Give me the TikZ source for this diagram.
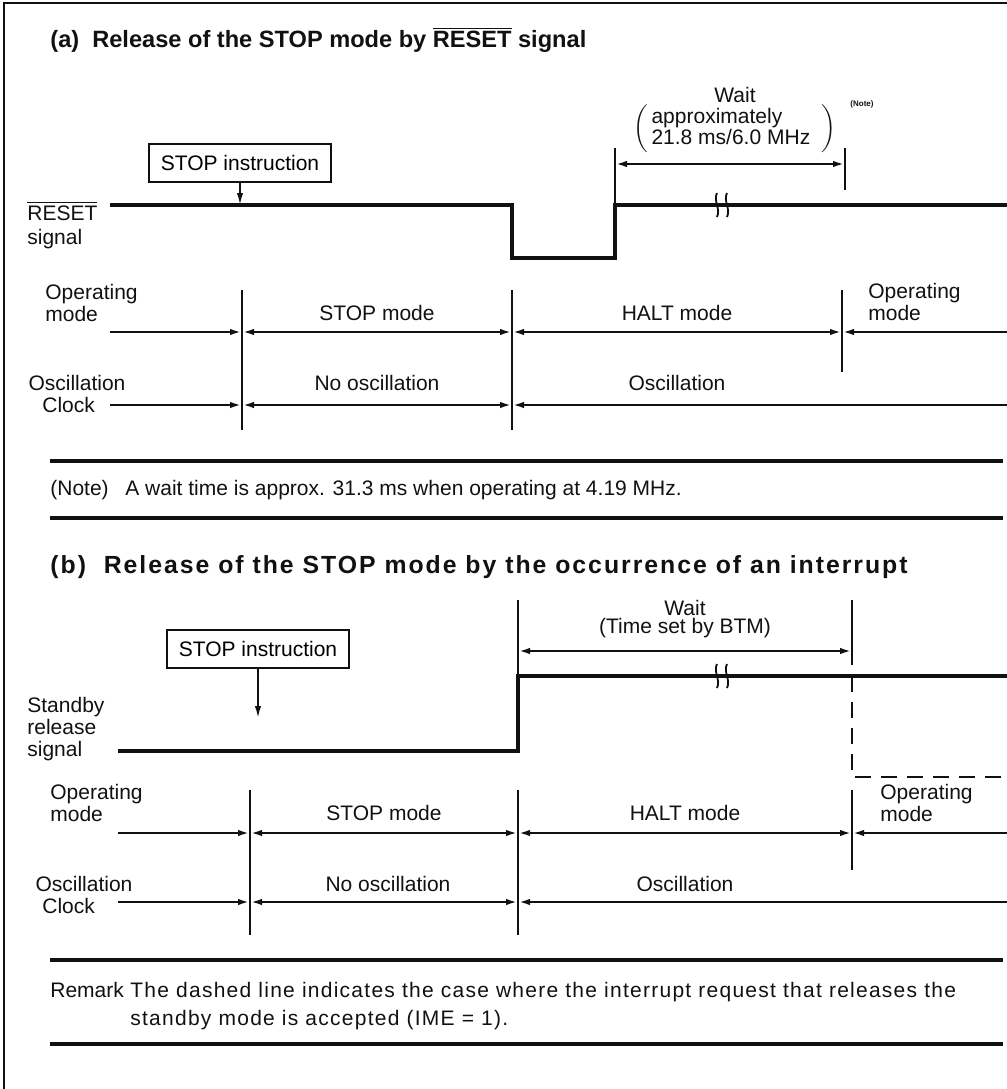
\documentclass[tikz,border=0pt]{standalone}
\usepackage{fontspec}
\setmainfont{Liberation Sans}
\usetikzlibrary{arrows.meta}
\definecolor{ink}{HTML}{111111}
\newcommand{\lbl}{\fontsize{10.5}{10}\selectfont}
\newcommand{\ttl}{\fontsize{11.8}{14}\selectfont\bfseries}
\newcommand{\rst}{$\overline{\mbox{RESET}}$}
\tikzset{
  sig/.style={draw=ink, line width=2pt},
  vline/.style={draw=ink, line width=0.9pt},
  rule/.style={draw=ink, line width=1.8pt},
  mline/.style={draw=ink, line width=1.2pt},
  tipr/.style={mline, -{Latex[length=6pt,width=3.2pt]}},
  tipb/.style={mline, {Latex[length=6pt,width=3.2pt]}-{Latex[length=6pt,width=3.2pt]}},
  txt/.style={text=ink, font=\lbl, inner sep=0pt},
  stopbox/.style={draw=ink, line width=0.9pt, font=\lbl, minimum width=91pt,
    minimum height=19pt, inner sep=2pt},
  brk/.pic={\draw[ink, line width=0.9pt] (-5,-12) .. controls (-9,-4) and (-1,4) .. (-5,12)
             (5,-12) .. controls (1,-4) and (9,4) .. (5,12);}
}
\begin{document}
\begin{tikzpicture}[x=0.5pt, y=-0.5pt]
  \useasboundingbox (0,0) rectangle (1007,1089);
  \draw[ink, line width=1.4pt] (4,1089) |- (1007,3);

  % (a) release by RESET
  \node[txt, font=\ttl, anchor=west] (ta) at (50,40)
    {(a)\ \ Release of the STOP mode by \rst\ signal};
  \node[stopbox] (sa) at (240,163) {STOP instruction};
  \coordinate (ra) at (240,205);
  \draw[tipr, line width=0.9pt] (sa.south) -- (ra);
  \node[txt, anchor=north west, align=left] (la) at (27,201) {\rst\\[2pt]signal};
  \draw[sig] (110,205) -- (512,205) -- (512,258) -- (615,258) -- (615,205) -- (1007,205);
  \pic at (722,205) {brk};

  \node[txt] (wa) at (735,95) {Wait};
  \node[txt] (pa) at (735,129) {$\left(\mbox{\begin{tabular}{@{\,}l@{\ \ }}approximately\\21.8 ms/6.0 MHz\end{tabular}}\right)$};
  \node[txt, font=\fontsize{4}{4}\selectfont\bfseries] (na) at (862,104) {(Note)};
  \draw[vline] (615,148) -- (615,205) (845,148) -- (845,190);
  \draw[tipb] (615,164) -- (845,164);

  \node[txt, anchor=west, align=left] (oa) at (45,303) {Operating\\[1pt]mode};
  \node[txt] (sma) at (377,313) {STOP mode};
  \node[txt] (hma) at (677,313) {HALT mode};
  \node[txt, anchor=west, align=left] (ob) at (868,302) {Operating\\[1pt]mode};
  \draw[vline] (242,290) -- (242,430) (512,290) -- (512,430) (842,290) -- (842,372);
  \draw[tipr] (110,332) -- (242,332);
  \draw[tipb] (242,332) -- (512,332);
  \draw[tipb] (512,332) -- (842,332);
  \draw[tipr] (1007,332) -- (842,332);

  \node[txt] (xa) at (77,383) {Oscillation};
  \node[txt] (nxa) at (377,383) {No oscillation};
  \node[txt] (xb) at (677,383) {Oscillation};
  \node[txt, anchor=west] (ca) at (42,405) {Clock};
  \draw[tipr] (110,405) -- (242,405);
  \draw[tipb] (242,405) -- (512,405);
  \draw[tipr] (1007,405) -- (512,405);

  \draw[rule] (50,461) -- (1003,461) (50,518) -- (1003,518);
  \node[txt, anchor=west] (nt) at (50,490) {(Note)};
  \node[txt, anchor=west] (ntx) at (125,490) {A wait time is approx. 31.3 ms when operating at 4.19 MHz.};

  % (b) release by interrupt
  \node[txt, font=\fontsize{12.4}{14}\selectfont\bfseries\addfontfeature{LetterSpace=8}, anchor=west] (tb) at (50,567)
    {(b)\ \ Release of the STOP mode by the occurrence of an interrupt};
  \node[stopbox] (sb) at (258,649) {STOP instruction};
  \coordinate (rb) at (258,718);
  \draw[tipr, line width=0.9pt] (sb.south) -- (rb);
  \node[txt, anchor=north west, align=left] (lb) at (27,697) {Standby\\[1pt]release\\[1pt]signal};
  \draw[sig] (118,751) -- (518,751) -- (518,676) -- (1007,676);
  \pic at (722,676) {brk};
  \draw[ink, line width=1.2pt, dashed, dash pattern=on 8pt off 5pt] (852,676) -- (852,777) -- (1007,777);

  \node[txt] (wb) at (685,608) {Wait};
  \node[txt] (tmb) at (685,628) {(Time set by BTM)};
  \draw[vline] (518,600) -- (518,676) (852,600) -- (852,665);
  \draw[tipb] (518,651) -- (852,651);

  \node[txt, anchor=west, align=left] (oc) at (50,803) {Operating\\[1pt]mode};
  \node[txt] (smb) at (384,813) {STOP mode};
  \node[txt] (hmb) at (685,813) {HALT mode};
  \node[txt, anchor=west, align=left] (od) at (880,803) {Operating\\[1pt]mode};
  \draw[vline] (250,790) -- (250,935) (518,790) -- (518,935) (852,790) -- (852,870);
  \draw[tipr] (118,833) -- (250,833);
  \draw[tipb] (250,833) -- (518,833);
  \draw[tipb] (518,833) -- (852,833);
  \draw[tipr] (1007,833) -- (852,833);

  \node[txt] (xc) at (84,884) {Oscillation};
  \node[txt] (nxb) at (388,884) {No oscillation};
  \node[txt] (xd) at (685,884) {Oscillation};
  \node[txt, anchor=west] (cb) at (42,906) {Clock};
  \draw[tipr] (118,902) -- (250,902);
  \draw[tipb] (250,902) -- (518,902);
  \draw[tipr] (1007,902) -- (518,902);

  \draw[rule] (50,960) -- (1003,960) (50,1044) -- (1003,1044);
  \node[txt, anchor=west] (rm) at (50,990) {Remark};
  \node[txt, font=\lbl\addfontfeature{LetterSpace=6},
        anchor=north west, align=left] (rmx) at (130,982)
    {The dashed line indicates the case where the interrupt request that releases the\\[4pt]standby mode is accepted (IME = 1).};
\end{tikzpicture}
\end{document}
